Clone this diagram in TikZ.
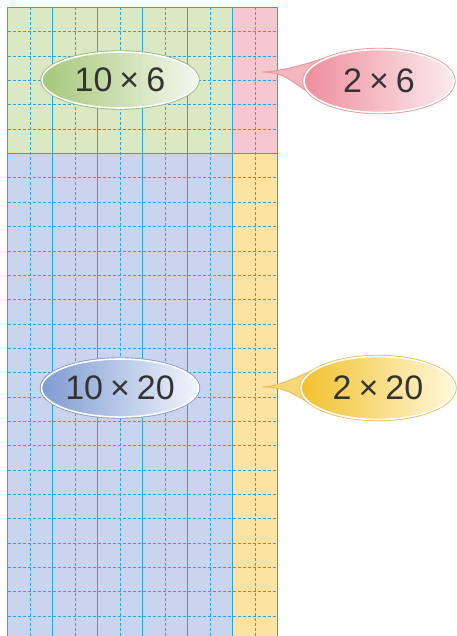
\documentclass[tikz,border=0pt]{standalone}
\usepackage{fontspec}
\setmainfont{Liberation Sans}
\usetikzlibrary{shapes.geometric}
\pgfdeclarelayer{front}
\pgfsetlayers{main,front}
\definecolor{gridline}{RGB}{40,165,228}
\definecolor{greenbg}{HTML}{DAE8C4}
\definecolor{pinkbg}{HTML}{F5C7CE}
\definecolor{bluebg}{HTML}{C9D5EE}
\definecolor{yellowbg}{HTML}{FCE3A2}
\definecolor{greenL}{HTML}{A6C77A}
\definecolor{greenR}{HTML}{F4F8EC}
\definecolor{greenB}{HTML}{9DB77E}
\definecolor{pinkL}{HTML}{EE8E9C}
\definecolor{pinkR}{HTML}{FCEBEE}
\definecolor{pinkB}{HTML}{E59A9A}
\definecolor{blueL}{HTML}{7F9BD2}
\definecolor{blueR}{HTML}{F2F5FC}
\definecolor{blueB}{HTML}{8C9CC0}
\definecolor{yellowL}{HTML}{F2C12E}
\definecolor{yellowR}{HTML}{FFF8DA}
\definecolor{yellowB}{HTML}{E8C060}
\tikzset{
  gridsolid/.style={draw=gridline, line width=1.3pt},
  griddash/.style={draw=gridline, line width=0.9pt, dash pattern=on 3pt off 2pt},
  bubble/.style={ellipse, inner sep=0pt, text=black!80,
    font=\fontsize{34}{40}\selectfont, draw=white, line width=1.6pt},
  greenbub/.style={bubble, left color=greenL, right color=greenR,
    preaction={draw=greenB, line width=3.4pt}},
  pinkbub/.style={bubble, left color=pinkL, right color=pinkR,
    preaction={draw=pinkB, line width=3.4pt}},
  bluebub/.style={bubble, left color=blueL, right color=blueR,
    preaction={draw=blueB, line width=3.4pt}},
  yellowbub/.style={bubble, left color=yellowL, right color=yellowR,
    preaction={draw=yellowB, line width=3.4pt}},
  pinktail/.style={fill=pinkL!65!white, draw=pinkB, line width=1pt},
  yellowtail/.style={fill=yellowL!65!white, draw=yellowB, line width=1pt},
}
\newcommand{\tms}{\hspace{7pt}×\hspace{7pt}}
\begin{document}
\begin{tikzpicture}[x=1pt,y=-1pt]
\useasboundingbox (0,0) rectangle (456,636);
\clip (0,0) rectangle (456,636);
\fill[white] (0,0) rectangle (456,636);
% regions
\fill[greenbg] (7.5,7.5) rectangle (232.5,153.5);
\fill[pinkbg] (232.5,7.5) rectangle (277.5,153.5);
\fill[bluebg] (7.5,153.5) rectangle (232.5,640.6);
\fill[yellowbg] (232.5,153.5) rectangle (277.5,640.6);
% grid
\foreach \i in {1,3,...,11}
  \draw[griddash] ({round(7+\i*22.5)+0.5},7.5) -- ({round(7+\i*22.5)+0.5},640.6);
\foreach \i in {2,4,...,8}
  \draw[gridsolid] ({round(7+\i*22.5)+0.5},7.5) -- ({round(7+\i*22.5)+0.5},640.6);
\foreach \j in {1,...,5,7,8,...,25}
  \draw[griddash] (7.5,{round(7+\j*24.35)+0.5}) -- (277.5,{round(7+\j*24.35)+0.5});
\draw[gridsolid] (7.5,7.5) rectangle (277.5,640.6);
\draw[gridsolid] (232.5,7.5) -- (232.5,640.6);
\draw[gridsolid] (7.5,153.5) -- (277.5,153.5);
% bubbles
\begin{pgfonlayer}{front}
\node[greenbub, minimum width=156pt, minimum height=56pt] (a106) at (120,80) {10\tms6};
\node[pinkbub, minimum width=150pt, minimum height=63pt] (a26) at (379,81) {2\tms6};
\node[bluebub, minimum width=157pt, minimum height=58pt] (a1020) at (120,388) {10\tms20};
\node[yellowbub, minimum width=154pt, minimum height=63pt] (a220) at (378,388) {2\tms20};
\end{pgfonlayer}
% tails
\coordinate (t26) at (263,72);
\coordinate (t220) at (263,387);
\path[pinktail] (t26) .. controls +(22,-1) and +(-18,6) .. (a26.152)
  -- (a26.188) .. controls +(-14,-8) and +(22,0) .. (t26) -- cycle;
\path[yellowtail] (t220) .. controls +(22,-1) and +(-18,6) .. (a220.150)
  -- (a220.192) .. controls +(-14,-8) and +(22,0) .. (t220) -- cycle;
\end{tikzpicture}
\end{document}
